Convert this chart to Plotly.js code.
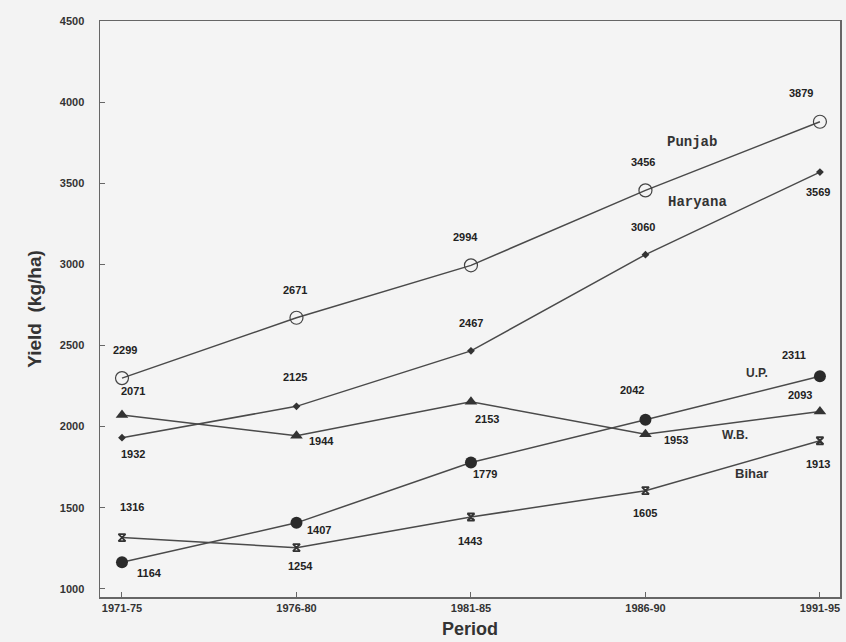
<!DOCTYPE html>
<html>
<head>
<meta charset="utf-8">
<script src="https://cdn.plot.ly/plotly-3.0.1.min.js"></script>
<style>html,body{margin:0;padding:0;background:#f3f3f3;}#chart{width:846px;height:642px;}</style>
</head>
<body>
<div id="chart"></div>
<script>
// ---- data ----
const periods = ["1971-75", "1976-80", "1981-85", "1986-90", "1991-95"];
const punjab  = [2299, 2671, 2994, 3456, 3879];
const haryana = [1932, 2125, 2467, 3060, 3569];
const up      = [1164, 1407, 1779, 2042, 2311];
const wb      = [2071, 1944, 2153, 1953, 2093];
const bihar   = [1316, 1254, 1443, 1605, 1913];
const seriesNames = ["Punjab", "Haryana", "U.P.", "W.B.", "Bihar"];
const yTicks = [1000, 1500, 2000, 2500, 3000, 3500, 4000, 4500];

// ---- styling / placement (not data) ----
const lineColor = "#4a4a4a";
const markerStyles = [
  {symbol: "circle-open", size: 13, color: "#444", line: {width: 1.2, color: "#444"}},
  {symbol: "diamond", size: 6, color: "#333"},
  {symbol: "circle", size: 12, color: "#2a2a2a"},
  {symbol: "triangle-up", size: 11, color: "#333"},
  {symbol: "hourglass-open", size: 7, color: "#333", line: {width: 1.8, color: "#333"}}
];
// pixel offsets of value labels relative to their points [xshift, yshift]
const labelShifts = [
  [[3, 28], [-1, 28], [-5, 28], [-2, 28], [-19, 29]],
  [[11, -16], [-1, 29], [0, 28], [-2, 28], [-2, -20]],
  [[28, -11], [23, -7], [14, -12], [-13, 30], [-26, 21]],
  [[11, 24], [25, -5], [16, -17], [31, -6], [-20, 17]],
  [[10, 31], [4, -18], [-1, -24], [0, -22], [-2, -23]]
];
const namePos = [[0.800, 0.790], [0.807, 0.686], [0.888, 0.389], [0.858, 0.281], [0.881, 0.215]];
const nameFonts = [
  {family: "Liberation Mono, Courier New, monospace", size: 14, color: "#333", weight: "bold"},
  {family: "Liberation Mono, Courier New, monospace", size: 14, color: "#333", weight: "bold"},
  {family: "Liberation Sans, Arial, sans-serif", size: 12, color: "#333", weight: "bold"},
  {family: "Liberation Sans, Arial, sans-serif", size: 12, color: "#333", weight: "bold"},
  {family: "Liberation Sans, Arial, sans-serif", size: 13, color: "#333", weight: "bold"}
];

const allSeries = [punjab, haryana, up, wb, bihar];

const traces = allSeries.map((vals, i) => ({
  x: periods,
  y: vals,
  type: "scatter",
  mode: "lines+markers",
  name: seriesNames[i],
  line: {color: lineColor, width: 1.5},
  marker: markerStyles[i],
  cliponaxis: false,
  showlegend: false
}));

const annotations = [];
allSeries.forEach((vals, i) => {
  vals.forEach((v, j) => {
    annotations.push({
      x: periods[j], y: v, xref: "x", yref: "y",
      text: String(v), showarrow: false,
      xanchor: "center", yanchor: "middle",
      xshift: labelShifts[i][j][0], yshift: labelShifts[i][j][1],
      font: {family: "Liberation Sans, Arial, sans-serif", size: 11, color: "#222", weight: "bold"}
    });
  });
  annotations.push({
    x: namePos[i][0], y: namePos[i][1], xref: "paper", yref: "paper",
    xanchor: "center", yanchor: "middle",
    text: seriesNames[i], showarrow: false,
    font: nameFonts[i]
  });
});

const layout = {
  width: 846, height: 642,
  paper_bgcolor: "#f3f3f3",
  plot_bgcolor: "#f4f4f4",
  margin: {l: 100, r: 6, t: 21, b: 45},
  showlegend: false,
  xaxis: {
    type: "category",
    categoryorder: "array", categoryarray: periods,
    range: [-0.126, 4.115],
    showgrid: false, zeroline: false,
    showline: true, mirror: true, linecolor: "#666", linewidth: 1.5,
    ticks: "inside", ticklen: 5, tickcolor: "#666",
    tickfont: {family: "Liberation Sans, Arial, sans-serif", size: 11, color: "#333", weight: "bold"},
    ticklabelstandoff: 0,
    title: {text: "Period", standoff: 9,
      font: {family: "Liberation Sans, Arial, sans-serif", size: 18, color: "#333", weight: "bold"}},
    automargin: false
  },
  yaxis: {
    range: [950, 4500],
    tickvals: yTicks,
    ticktext: yTicks.map(String),
    showgrid: false, zeroline: false,
    showline: true, mirror: true, linecolor: "#666", linewidth: 1.5,
    ticks: "inside", ticklen: 5, tickcolor: "#666",
    tickfont: {family: "Liberation Sans, Arial, sans-serif", size: 11, color: "#333", weight: "bold"},
    ticklabelstandoff: 12,
    title: {text: "Yield  (kg/ha)", standoff: 13,
      font: {family: "Liberation Sans, Arial, sans-serif", size: 19, color: "#333", weight: "bold"}},
    automargin: false
  },
  annotations: annotations
};

Plotly.newPlot("chart", traces, layout, {displayModeBar: false, staticPlot: true});
</script>
</body>
</html>
